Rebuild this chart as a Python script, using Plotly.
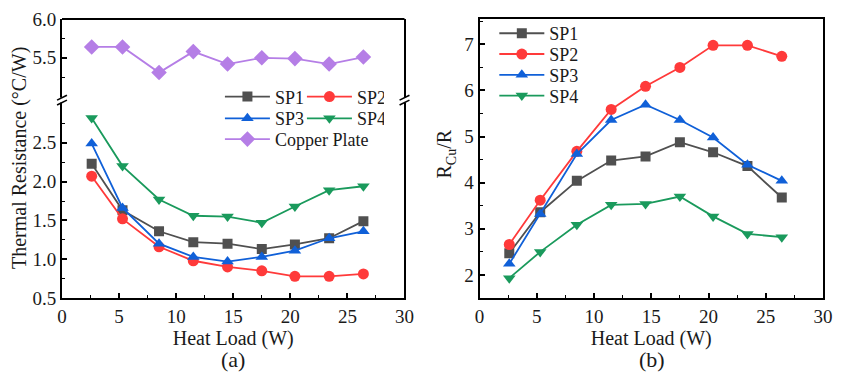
import plotly.graph_objects as go

# ---------------- data ----------------
heat_load = [2.6, 5.3, 8.5, 11.5, 14.5, 17.5, 20.4, 23.4, 26.4]

# (a) thermal resistance (°C/W)
tr_sp1 = [2.23, 1.63, 1.36, 1.22, 1.20, 1.13, 1.19, 1.27, 1.49]
tr_sp2 = [2.07, 1.52, 1.16, 0.98, 0.90, 0.85, 0.78, 0.78, 0.81]
tr_sp3 = [2.49, 1.66, 1.20, 1.03, 0.97, 1.03, 1.11, 1.27, 1.36]
tr_sp4 = [2.82, 2.20, 1.77, 1.56, 1.55, 1.47, 1.68, 1.89, 1.94]
tr_copper = [5.64, 5.64, 5.31, 5.58, 5.42, 5.50, 5.49, 5.42, 5.51]

# (b) R_Cu / R
ratio_sp1 = [2.47, 3.36, 4.04, 4.48, 4.57, 4.88, 4.66, 4.36, 3.68]
ratio_sp2 = [2.66, 3.62, 4.68, 5.59, 6.09, 6.50, 6.98, 6.98, 6.74]
ratio_sp3 = [2.24, 3.32, 4.62, 5.36, 5.69, 5.36, 4.98, 4.39, 4.04]
ratio_sp4 = [1.93, 2.50, 3.09, 3.52, 3.54, 3.70, 3.27, 2.89, 2.82]

names = ["SP1", "SP2", "SP3", "SP4"]
colors = ["#505050", "#ff3a3a", "#1060d8", "#1a9a5c"]
symbols = ["square", "circle", "triangle-up", "triangle-down"]
sizes = [10, 11, 11, 11]
copper_color = "#b57ee6"

# ---------------- geometry helpers ----------------
W, H = 842, 375
ML, MR, MT, MB = 62, 9, 16, 77
PW, PH = W - ML - MR, H - MT - MB


def px(xp):
    return (xp - ML) / PW


def py(yp):
    return (H - MB - yp) / PH


BREAK = py(98)
LEFT_DOM = [0, px(409)]
RIGHT_DOM = [px(485), 1]

FONT = "Liberation Serif"
TXT = "#1a1a1a"
TICK_SIZE = 19
TITLE_SIZE = 20

fig = go.Figure()

tr_series = [tr_sp1, tr_sp2, tr_sp3, tr_sp4]
ratio_series = [ratio_sp1, ratio_sp2, ratio_sp3, ratio_sp4]
left_legends = ["legend", "legend", "legend2", "legend2"]
right_legends = ["legend4", "legend5", "legend6", "legend7"]

for i in range(4):
    fig.add_trace(go.Scatter(
        x=heat_load, y=tr_series[i], name=names[i], mode="lines+markers",
        line=dict(color=colors[i], width=1.8),
        marker=dict(symbol=symbols[i], size=sizes[i], color=colors[i]),
        xaxis="x", yaxis="y", legend=left_legends[i]))

fig.add_trace(go.Scatter(
    x=heat_load, y=tr_copper, name="Copper Plate", mode="lines+markers",
    line=dict(color=copper_color, width=1.8),
    marker=dict(symbol="diamond", size=12, color=copper_color),
    xaxis="x", yaxis="y2", legend="legend3"))

for i in range(4):
    fig.add_trace(go.Scatter(
        x=heat_load, y=ratio_series[i], name=names[i], mode="lines+markers",
        line=dict(color=colors[i], width=1.8),
        marker=dict(symbol=symbols[i], size=sizes[i], color=colors[i]),
        xaxis="x2", yaxis="y3", legend=right_legends[i]))

axis_common = dict(
    showgrid=False, zeroline=False, showline=True, linecolor="black",
    linewidth=2, ticks="inside", ticklen=5, tickwidth=1.5, tickcolor="black",
    tickfont=dict(family=FONT, size=TICK_SIZE, color=TXT),
)

xcommon = dict(axis_common, range=[0, 30], dtick=5,
               minor=dict(ticks="inside", ticklen=3, tickwidth=1.2, dtick=2.5, tickcolor="black"))

legend_common = dict(
    bgcolor="rgba(0,0,0,0)", font=dict(family=FONT, size=18, color=TXT),
    itemwidth=45, tracegroupgap=0, xanchor="left", yanchor="top",
    itemclick=False, itemdoubleclick=False)

layout_legends = dict(
    legend=dict(legend_common, orientation="h", entrywidth=22, entrywidthmode="pixels",
                x=px(222), y=py(76)),
    legend2=dict(legend_common, orientation="h", entrywidth=22, entrywidthmode="pixels",
                 x=px(222), y=py(98)),
    legend3=dict(legend_common, orientation="h", x=px(222), y=py(119)),
)
for k, top in zip(right_legends, [12, 33, 54, 75]):
    layout_legends[k] = dict(legend_common, orientation="v", x=px(500), y=py(top))

fig.update_layout(
    width=W, height=H,
    margin=dict(l=ML, r=MR, t=MT, b=MB),
    paper_bgcolor="white", plot_bgcolor="white",
    font=dict(family=FONT, color=TXT),
    xaxis=dict(xcommon, domain=LEFT_DOM, anchor="y",
               title=dict(text="Heat Load (W)", font=dict(family=FONT, size=TITLE_SIZE, color=TXT), standoff=1)),
    yaxis=dict(axis_common, domain=[0, BREAK], anchor="x", range=[0.5, 3.05],
               tickvals=[0.5, 1.0, 1.5, 2.0, 2.5], ticktext=["0.5", "1.0", "1.5", "2.0", "2.5"],
               mirror=True,
               minor=dict(ticks="inside", ticklen=3, tickwidth=1.2,
                          tickvals=[0.75, 1.25, 1.75, 2.25, 2.75], tickcolor="black")),
    yaxis2=dict(axis_common, domain=[BREAK, 1], anchor="x", range=[4.955, 6.0],
                tickvals=[5.5, 6.0], ticktext=["5.5", "6.0"], mirror=True,
                minor=dict(ticks="inside", ticklen=3, tickwidth=1.2, tickvals=[5.25, 5.75], tickcolor="black")),
    xaxis2=dict(xcommon, domain=RIGHT_DOM, anchor="y3", mirror=True,
                title=dict(text="Heat Load (W)", font=dict(family=FONT, size=TITLE_SIZE, color=TXT), standoff=1)),
    yaxis3=dict(axis_common, domain=[0, 1], anchor="x2", range=[1.5, 7.55],
                dtick=1, mirror=True,
                minor=dict(ticks="inside", ticklen=3, tickwidth=1.2, dtick=0.5, tickcolor="black")),
    showlegend=True,
    **layout_legends,
)

shapes = []
# top frame line of panel (a)
shapes.append(dict(type="line", xref="paper", yref="paper", x0=0, x1=LEFT_DOM[1], y0=1, y1=1,
                   line=dict(color="black", width=2)))
# axis-break marks on both sides of panel (a)
for xe in (62, 409):
    shapes.append(dict(type="line", xref="paper", yref="paper",
                       x0=px(xe), x1=px(xe), y0=py(95.5), y1=py(100.5),
                       line=dict(color="white", width=5)))
    for yc in (95.5, 100.5):
        shapes.append(dict(type="line", xref="paper", yref="paper",
                           x0=px(xe - 5), x1=px(xe + 5), y0=py(yc + 2.5), y1=py(yc - 2.5),
                           line=dict(color="black", width=1.6)))
fig.update_layout(shapes=shapes)

fig.add_annotation(text="Thermal Resistance (°C/W)", textangle=-90, xref="paper", yref="paper",
                   x=px(19), y=py(157), showarrow=False, xanchor="center", yanchor="middle",
                   font=dict(family=FONT, size=TITLE_SIZE, color=TXT))
fig.add_annotation(text="R<sub>Cu</sub>/R", textangle=-90, xref="paper", yref="paper",
                   x=px(451), y=py(152), showarrow=False, xanchor="center", yanchor="middle",
                   font=dict(family=FONT, size=TITLE_SIZE, color=TXT))
fig.add_annotation(text="(a)", xref="paper", yref="paper", x=px(235), y=py(360),
                   showarrow=False, xanchor="center", yanchor="middle",
                   font=dict(family=FONT, size=22, color=TXT))
fig.add_annotation(text="(b)", xref="paper", yref="paper", x=px(660), y=py(360),
                   showarrow=False, xanchor="center", yanchor="middle",
                   font=dict(family=FONT, size=22, color=TXT))

fig.write_html("out.html")
